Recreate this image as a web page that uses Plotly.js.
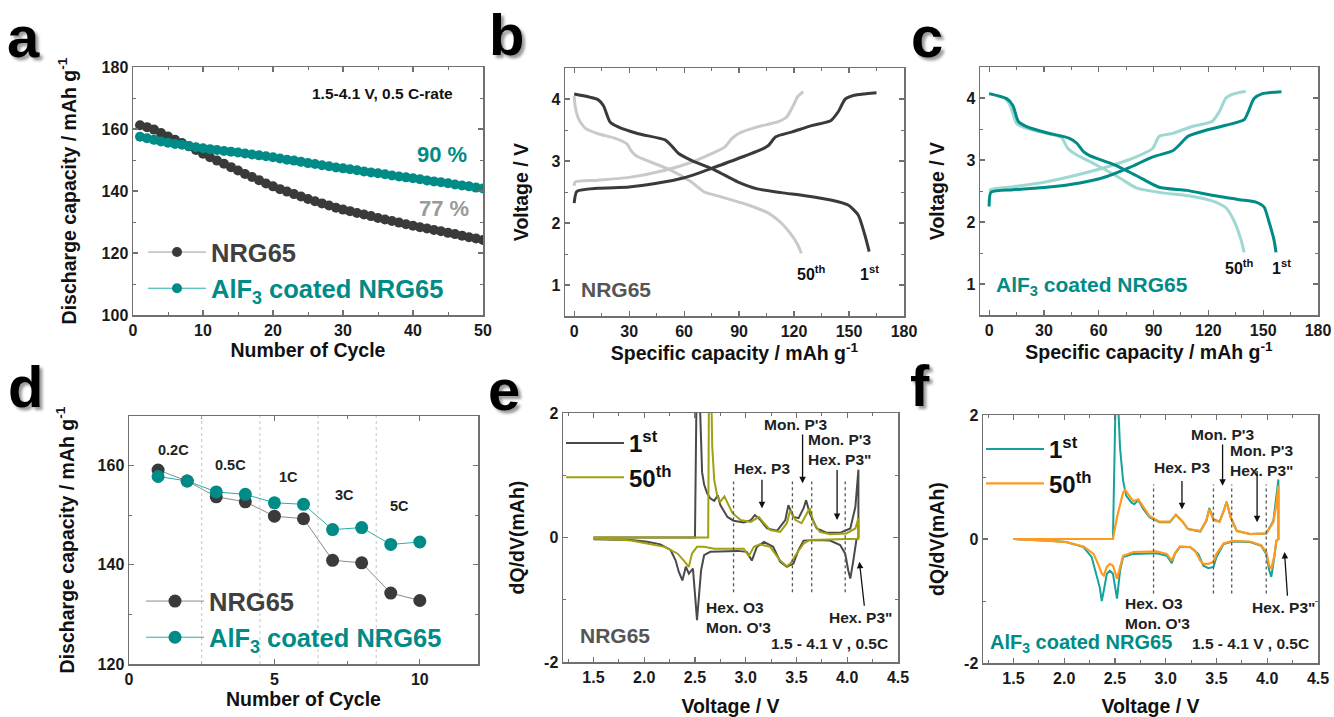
<!DOCTYPE html>
<html><head><meta charset="utf-8">
<script src="https://cdn.plot.ly/plotly-3.0.1.min.js"></script>
<style>html,body{margin:0;padding:0;background:#fff}#chart{width:1334px;height:717px}</style>
</head><body><div id="chart"></div>
<script>
// ---------- DATA ----------
// (a) cycling at 0.5C
const cycA = Array.from({length:50},(_,i)=>i+1);
const capA_NRG = [161.2,160.6,159.8,158.7,157.6,156.5,155.5,154.4,153.2,152.0,150.9,149.8,148.8,147.7,146.6,145.5,144.5,143.5,142.4,141.5,140.6,139.8,139.0,138.2,137.4,136.7,136.0,135.3,134.6,134.0,133.5,132.9,132.4,131.9,131.3,130.8,130.3,129.8,129.3,128.8,128.3,127.9,127.4,127.0,126.5,126.1,125.6,125.1,124.7,124.2];
const capA_AlF = [157.5,157.0,156.5,156.0,155.6,155.2,154.9,154.5,154.1,153.8,153.5,153.2,152.9,152.7,152.4,152.1,151.8,151.5,151.2,150.9,150.5,150.1,149.8,149.4,149.0,148.7,148.3,148.0,147.6,147.3,147.0,146.7,146.3,146.0,145.7,145.4,145.0,144.7,144.4,144.1,143.8,143.4,143.1,142.8,142.5,142.1,141.8,141.5,141.1,140.8];

// (b) NRG65 charge/discharge profiles
const b1ch_cap = [0,1.5,13,30,45,60,75,89.5,101,106,110,119,129.5,140,144,148,153,165];
const b1ch_v   = [2.32,2.51,2.56,2.58,2.64,2.73,2.88,3.04,3.17,3.25,3.39,3.47,3.57,3.65,3.79,4.0,4.06,4.1];
const b1dc_cap = [0,13,16,19.6,24,35,49.6,53,57,64,77,89.5,100,113,126,140,149.5,155,158.6,161];
const b1dc_v   = [4.08,3.99,3.89,3.63,3.55,3.44,3.34,3.25,3.12,3.01,2.85,2.66,2.55,2.49,2.44,2.37,2.29,2.13,1.81,1.54];
const b50ch_cap = [0,0.5,13,31,49.6,64,75,82,86,89.5,100,111,116,119.5,122,125];
const b50ch_v   = [2.6,2.66,2.69,2.74,2.85,2.98,3.12,3.22,3.36,3.44,3.55,3.63,3.71,3.89,4.04,4.12];
const b50dc_cap = [0,0.5,2.4,6,13,22,28.7,31,34,42,53,64,71,80.5,95,106,113,118.6,122,124];
const b50dc_v   = [4.05,3.89,3.68,3.53,3.44,3.37,3.28,3.17,3.08,2.98,2.85,2.66,2.50,2.42,2.29,2.16,2.0,1.81,1.65,1.51];

// (c) AlF3 coated NRG65 profiles
const c1ch_cap = [0,1,13,31.5,49.6,64,77,89.6,100.5,104,108.7,118.7,129.6,139.6,142,145,149.6,160];
const c1ch_v   = [2.25,2.48,2.52,2.56,2.63,2.73,2.88,3.05,3.15,3.24,3.38,3.48,3.56,3.65,3.79,3.99,4.07,4.1];
const c1dc_cap = [0,9.6,13,16,20.5,31.5,44,48,51.5,55,68,80.5,93,108,122,137,146,150.5,153,156,157];
const c1dc_v   = [4.07,3.99,3.88,3.62,3.54,3.44,3.35,3.27,3.14,3.07,2.93,2.75,2.56,2.51,2.43,2.36,2.32,2.24,2.02,1.70,1.51];
const c50ch_cap = [0,1.5,13,31.5,49.6,68,80.5,89.6,93,100.5,111,122,126,129.6,133,140.5];
const c50ch_v   = [2.5,2.53,2.57,2.65,2.77,2.92,3.05,3.19,3.38,3.43,3.54,3.62,3.78,4.0,4.06,4.11];
const c50dc_cap = [0,8.7,11.5,15,20.5,31.5,39.6,43,48,58.7,71.5,80.5,95,109.6,122,129.6,134,138,139.6];
const c50dc_v   = [4.07,3.99,3.88,3.59,3.51,3.43,3.36,3.19,3.08,2.92,2.71,2.55,2.47,2.42,2.34,2.23,2.02,1.70,1.51];

// (d) rate capability
const cycD = [1,2,3,4,5,6,7,8,9,10];
const capD_NRG = [159.1,156.9,153.7,152.7,149.8,149.3,140.9,140.4,134.3,132.8];
const capD_AlF = [157.8,156.9,154.7,154.2,152.5,152.2,147.1,147.5,144.1,144.6];
const rateLabels = ['0.2C','0.5C','1C','3C','5C'];
const rateLabelX = [1.53,3.5,5.47,7.4,9.3];
const rateLabelY = [163.2,160.2,157.6,154.0,151.8];
const rateBounds = [2.5,4.5,6.5,8.5];

// (e) dQ/dV NRG65
const e1_v  = [1.5,2.50,2.52,2.54,2.57,2.59,2.62,2.65,2.69,2.725,2.75,2.82,2.88,2.98,3.05,3.09,3.14,3.21,3.31,3.39,3.42,3.47,3.52,3.57,3.595,3.63,3.70,3.80,3.93,4.03,4.08,4.11,4.11,
               4.09,4.06,4.03,4.01,3.98,3.93,3.83,3.70,3.57,3.52,3.47,3.405,3.34,3.27,3.18,3.11,3.06,3.01,2.92,2.65,2.59,2.56,2.535,2.52,2.505,2.48,2.44,2.41,2.376,2.34,2.31,2.26,2.16,2.03,1.87,1.5];
const e1_dq = [0,0,3.0,2.6,1.05,0.85,0.71,0.63,0.59,0.68,0.52,0.33,0.27,0.24,0.28,0.36,0.29,0.145,0.11,0.28,0.52,0.33,0.31,0.47,0.60,0.39,0.145,0.075,0.075,0.145,0.49,1.09,0,
               -0.04,-0.37,-0.66,-0.53,-0.26,-0.12,-0.05,-0.04,-0.05,-0.2,-0.42,-0.47,-0.39,-0.15,-0.07,-0.15,-0.37,-0.23,-0.215,-0.23,-0.285,-0.53,-0.96,-1.33,-1.01,-0.5,-0.58,-0.47,-0.69,-0.55,-0.37,-0.2,-0.11,-0.07,-0.04,-0.03];
const e50_v  = [1.5,2.63,2.64,2.66,2.67,2.69,2.72,2.75,2.79,2.82,2.87,2.95,3.05,3.09,3.13,3.18,3.24,3.34,3.405,3.44,3.49,3.55,3.60,3.63,3.67,3.73,3.83,3.99,4.08,4.11,4.11,
                3.83,3.63,3.57,3.50,3.44,3.405,3.34,3.24,3.14,3.08,3.03,2.98,2.85,2.69,2.59,2.52,2.47,2.44,2.39,2.33,2.20,2.03,1.87,1.71,1.5];
const e50_dq = [0,0,3.0,2.4,1.46,0.92,0.66,0.575,0.66,0.55,0.39,0.28,0.25,0.29,0.33,0.23,0.12,0.09,0.23,0.44,0.28,0.23,0.39,0.47,0.23,0.09,0.054,0.065,0.145,0.31,-0.02,
                -0.03,-0.04,-0.1,-0.26,-0.42,-0.46,-0.37,-0.15,-0.11,-0.15,-0.3,-0.18,-0.18,-0.18,-0.15,-0.15,-0.26,-0.47,-0.37,-0.26,-0.15,-0.1,-0.05,-0.03,-0.02];
const ePhaseLines = [2.88,3.46,3.65,3.98];

// (f) dQ/dV AlF3 coated NRG65
const f1_v  = [1.5,2.48,2.51,2.52,2.55,2.58,2.61,2.66,2.69,2.73,2.78,2.84,2.94,3.04,3.10,3.16,3.22,3.34,3.40,3.43,3.47,3.53,3.57,3.60,3.64,3.70,3.83,3.99,4.06,4.09,4.11,4.11,
               4.09,4.07,4.04,4.02,3.99,3.94,3.83,3.66,3.57,3.50,3.47,3.42,3.37,3.32,3.24,3.14,3.09,3.06,3.01,2.91,2.68,2.58,2.55,2.52,2.50,2.48,2.45,2.42,2.39,2.37,2.35,2.31,2.27,2.19,2.02,1.86,1.5];
const f1_dq = [0,0,2.6,2.6,1.47,0.94,0.70,0.59,0.56,0.63,0.48,0.35,0.27,0.27,0.39,0.29,0.16,0.12,0.29,0.50,0.32,0.28,0.45,0.60,0.35,0.13,0.08,0.09,0.29,0.67,0.96,0,
               -0.03,-0.29,-0.61,-0.51,-0.24,-0.11,-0.05,-0.04,-0.08,-0.29,-0.45,-0.47,-0.43,-0.24,-0.13,-0.13,-0.24,-0.39,-0.27,-0.23,-0.24,-0.29,-0.51,-0.96,-0.78,-0.56,-0.51,-0.56,-0.83,-1.0,-0.78,-0.51,-0.29,-0.13,-0.05,-0.03,0];
const f50_v  = [1.5,2.48,2.52,2.55,2.58,2.60,2.65,2.68,2.73,2.78,2.84,2.94,3.04,3.10,3.16,3.22,3.34,3.40,3.43,3.47,3.53,3.57,3.60,3.64,3.70,3.83,3.99,4.06,4.09,4.11,4.11,
                4.09,4.07,4.04,4.02,3.99,3.94,3.83,3.66,3.57,3.50,3.47,3.42,3.37,3.34,3.29,3.24,3.14,3.09,3.06,3.01,2.91,2.68,2.58,2.55,2.52,2.50,2.48,2.45,2.42,2.39,2.37,2.34,2.29,2.19,2.02,1.86,1.5];
const f50_dq = [0,0,0.35,0.56,0.75,0.79,0.67,0.61,0.64,0.51,0.37,0.28,0.28,0.39,0.29,0.16,0.13,0.30,0.48,0.30,0.28,0.45,0.60,0.35,0.13,0.08,0.09,0.27,0.56,0.86,0,
                -0.03,-0.27,-0.48,-0.43,-0.21,-0.10,-0.04,-0.03,-0.07,-0.24,-0.37,-0.40,-0.40,-0.35,-0.19,-0.13,-0.12,-0.23,-0.35,-0.24,-0.20,-0.21,-0.27,-0.45,-0.64,-0.53,-0.43,-0.40,-0.45,-0.59,-0.56,-0.43,-0.24,-0.12,-0.05,-0.03,0];
const fPhaseLines = [2.88,3.47,3.65,3.99];

// ---------- STYLE ----------
const FONT = 'Liberation Sans, Arial, sans-serif';
const DARK = '#3a3a3a', LGRAY = '#c9c9c9', TEAL = '#008b87', LTEAL = '#9fd7d2', OLIVE = '#a0a010', ORANGE = '#ff9a1f';
const W = 1334, H = 717;
const dx = (a,b)=>[a/W, b/W];
const dy = (top,bot)=>[1-bot/H, 1-top/H];
const MINOR = (d, t0)=>Object.assign({dtick:d, ticks:'inside', ticklen:3, tickwidth:1, tickcolor:'#707070', showgrid:false}, t0!==undefined?{tick0:t0}:{});

function axis(extra){
  return Object.assign({
    showline:true, linecolor:'#707070', linewidth:1.5, mirror:'allticks',
    ticks:'inside', ticklen:5, tickwidth:1.2, tickcolor:'#707070',
    showgrid:false, zeroline:false, fixedrange:true,
    tickfont:{family:FONT, size:16, color:'#1a1a1a', weight:'bold'}
  }, extra);
}
function ttl(text, standoff){ return {text:text, standoff:standoff, font:{family:FONT, size:19.5, color:'#111', weight:'bold'}}; }

const traces = [];
// (a)
traces.push({x:cycA, y:capA_NRG, xaxis:'x', yaxis:'y', mode:'lines+markers', name:'<span style="color:#404040">NRG65</span>',
  line:{color:'#9a9a9a', width:1}, marker:{color:DARK, size:10}, legend:'legend'});
traces.push({x:cycA, y:capA_AlF, xaxis:'x', yaxis:'y', mode:'lines+markers', name:'<span style="color:#008b87">AlF<sub>3</sub> coated NRG65</span>',
  line:{color:'#22b0aa', width:1}, marker:{color:TEAL, size:10}, legend:'legend'});
// (b)
const prof = (x,y,xa,ya,c)=>({x:x, y:y, xaxis:xa, yaxis:ya, mode:'lines', line:{color:c, width:3, shape:'spline', smoothing:0.6}, showlegend:false, hoverinfo:'skip'});
traces.push(prof(b50ch_cap,b50ch_v,'x2','y2',LGRAY), prof(b50dc_cap,b50dc_v,'x2','y2',LGRAY));
traces.push(prof(b1ch_cap,b1ch_v,'x2','y2',DARK), prof(b1dc_cap,b1dc_v,'x2','y2',DARK));
// (c)
traces.push(prof(c50ch_cap,c50ch_v,'x3','y3',LTEAL), prof(c50dc_cap,c50dc_v,'x3','y3',LTEAL));
traces.push(prof(c1ch_cap,c1ch_v,'x3','y3',TEAL), prof(c1dc_cap,c1dc_v,'x3','y3',TEAL));
// (d)
traces.push({x:cycD, y:capD_NRG, xaxis:'x4', yaxis:'y4', mode:'lines+markers', name:'<span style="color:#404040">NRG65</span>',
  line:{color:'#8a8a8a', width:1}, marker:{color:DARK, size:13}, legend:'legend2'});
traces.push({x:cycD, y:capD_AlF, xaxis:'x4', yaxis:'y4', mode:'lines+markers', name:'<span style="color:#008b87">AlF<sub>3</sub> coated NRG65</span>',
  line:{color:'#22b0aa', width:1}, marker:{color:TEAL, size:13}, legend:'legend2'});
// (e)
traces.push({x:e1_v, y:e1_dq, xaxis:'x5', yaxis:'y5', mode:'lines', name:'1<sup>st</sup>', line:{color:'#4a4a4a', width:2}, legend:'legend3'});
traces.push({x:e50_v, y:e50_dq, xaxis:'x5', yaxis:'y5', mode:'lines', name:'50<sup>th</sup>', line:{color:OLIVE, width:2}, legend:'legend3'});
// (f)
traces.push({x:f1_v, y:f1_dq, xaxis:'x6', yaxis:'y6', mode:'lines', name:'1<sup>st</sup>', line:{color:'#13a39c', width:2}, legend:'legend4'});
traces.push({x:f50_v, y:f50_dq, xaxis:'x6', yaxis:'y6', mode:'lines', name:'50<sup>th</sup>', line:{color:ORANGE, width:2.2}, legend:'legend4'});

// ---------- ANNOTATIONS ----------
const ann = [];
function T(text, x, y, xr, yr, size, color, xanchor, extra){
  ann.push(Object.assign({text:text, x:x, y:y, xref:xr, yref:yr, showarrow:false, xanchor:xanchor||'center', yanchor:'middle',
    font:{family:FONT, size:size, color:color||'#111', weight:'bold'}}, extra||{}));
}
function A(xr, yr, tipX, tipY, tailX, tailY){
  ann.push({text:'', x:tipX, y:tipY, ax:tailX, ay:tailY, xref:xr, yref:yr, axref:xr, ayref:yr,
    showarrow:true, arrowhead:2, arrowsize:1, arrowwidth:1.3, arrowcolor:'#111'});
}
// panel letters
const letters = [['a',24,37],['b',506,35],['c',927,37],['d',25,386],['e',504,389],['f',920,385]];
letters.forEach(([t,px,py])=>{
  ann.push({text:t, x:px/W, y:1-py/H, xref:'paper', yref:'paper', showarrow:false, xanchor:'center', yanchor:'middle',
    font:{family:FONT, size:58, color:'#000', weight:'bold', shadow:'3px 3px 3px #9a9a9a'}});
});
// (a)
T('1.5-4.1 V, 0.5 C-rate', 35.6, 171.6, 'x','y', 15.5, '#111');
T('90 %', 44.1, 151.9, 'x','y', 22, TEAL);
T('77 %', 44.4, 134.2, 'x','y', 22, '#9a9a9a');
// (b)
T('50<sup>th</sup>', 129.5, 1.19, 'x2','y2', 16, '#111');
T('1<sup>st</sup>', 161, 1.19, 'x2','y2', 16, '#111');
T('NRG65', 2.5, 0.93, 'x2','y2', 21, '#555', 'left');
// (c)
T('50<sup>th</sup>', 137, 1.27, 'x3','y3', 16, '#111');
T('1<sup>st</sup>', 160, 1.27, 'x3','y3', 16, '#111');
T('AlF<sub>3</sub> coated NRG65', 2.5, 0.97, 'x3','y3', 21, TEAL, 'left');
// (d)
rateLabels.forEach((t,i)=>T(t, rateLabelX[i], rateLabelY[i], 'x4','y4', 14.5, '#222'));
// (e)
const AF = 15.5;
T('Hex. P3', 3.16, 1.11, 'x5','y5', AF, '#222');
T("Mon. P'3", 3.49, 1.81, 'x5','y5', AF, '#222');
T("Mon. P'3", 3.59, 1.57, 'x5','y5', AF, '#222', 'left');
T('Hex. P3"', 3.59, 1.25, 'x5','y5', AF, '#222', 'left');
T('Hex. O3', 2.59, -1.12, 'x5','y5', AF, '#222', 'left');
T("Mon. O'3", 2.59, -1.44, 'x5','y5', AF, '#222', 'left');
T('Hex. P3"', 3.80, -1.28, 'x5','y5', AF, '#222', 'left');
T('NRG65', 1.35, -1.58, 'x5','y5', 21, '#555', 'left');
T('1.5 - 4.1 V , 0.5C', 4.42, -1.71, 'x5','y5', AF, '#222', 'right');
A('x5','y5', 3.16, 0.47, 3.16, 0.95);
A('x5','y5', 3.56, 0.87, 3.56, 1.68);
A('x5','y5', 3.90, 0.28, 3.90, 1.11);
A('x5','y5', 4.12, -0.39, 4.17, -1.12);
// (f)
T('Hex. P3', 3.16, 1.15, 'x6','y6', AF, '#222');
T("Mon. P'3", 3.56, 1.68, 'x6','y6', AF, '#222');
T("Mon. P'3", 3.61, 1.42, 'x6','y6', AF, '#222', 'left');
T('Hex. P3"', 3.61, 1.10, 'x6','y6', AF, '#222', 'left');
T('Hex. O3', 2.58, -1.04, 'x6','y6', AF, '#222', 'left');
T("Mon. O'3", 2.58, -1.36, 'x6','y6', AF, '#222', 'left');
T('Hex. P3"', 3.83, -1.10, 'x6','y6', AF, '#222', 'left');
T('AlF<sub>3</sub> coated NRG65', 1.25, -1.68, 'x6','y6', 20, TEAL, 'left');
T('1.5 - 4.1 V , 0.5C', 4.43, -1.68, 'x6','y6', AF, '#222', 'right');
A('x6','y6', 3.16, 0.48, 3.16, 0.96);
A('x6','y6', 3.56, 0.86, 3.56, 1.55);
A('x6','y6', 3.90, 0.27, 3.90, 1.12);
A('x6','y6', 4.17, -0.21, 4.20, -0.94);

// ---------- SHAPES ----------
const shapes = [];
rateBounds.forEach(v=>shapes.push({type:'line', xref:'x4', yref:'y4', x0:v, x1:v, y0:120, y1:170, line:{color:'#c4c4c4', width:1, dash:'dot'}}));
ePhaseLines.forEach(v=>shapes.push({type:'line', xref:'x5', yref:'y5', x0:v, x1:v, y0:-0.88, y1:0.9, line:{color:'#555', width:1.3, dash:'dot'}}));
fPhaseLines.forEach(v=>shapes.push({type:'line', xref:'x6', yref:'y6', x0:v, x1:v, y0:-0.88, y1:0.88, line:{color:'#555', width:1.3, dash:'dot'}}));

// ---------- LEGENDS ----------
function leg(x, y, size, color){
  return {x:x, y:y, xref:'paper', yref:'paper', xanchor:'left', yanchor:'top', bgcolor:'rgba(0,0,0,0)', borderwidth:0,
    itemwidth:58, tracegroupgap:0, font:{family:FONT, size:size, color:color, weight:'bold'}};
}

const layout = {
  width:W, height:H, margin:{l:0,r:0,t:0,b:0}, paper_bgcolor:'#fff', plot_bgcolor:'rgba(0,0,0,0)',
  showlegend:true, hovermode:false,
  legend:  leg(143/W, 1-229/H, 25.5, '#404040'),
  legend2: leg(141/W, 1-578/H, 25.5, '#404040'),
  legend3: leg(561/W, 1-421/H, 24, '#111'),
  legend4: leg(981/W, 1-427/H, 24, '#111'),
  xaxis: axis({domain:dx(133,483), anchor:'y', range:[0,50], dtick:10, minor:MINOR(5), title:ttl('Number of Cycle',2)}),
  yaxis: axis({domain:dy(67,315), anchor:'x', range:[100,180], dtick:20, minor:MINOR(10), title:ttl('Discharge capacity / mAh g<sup>-1</sup>',20)}),
  xaxis2: axis({domain:dx(565,904), anchor:'y2', range:[-5,180], tickvals:[0,30,60,90,120,150,180], minor:MINOR(15,0), title:ttl('Specific capacity / mAh g<sup>-1</sup>',2)}),
  yaxis2: axis({domain:dy(68,316), anchor:'x2', range:[0.5,4.5], dtick:1, minor:MINOR(0.5), title:ttl('Voltage / V',17)}),
  xaxis3: axis({domain:dx(980,1318), anchor:'y3', range:[-5,180], tickvals:[0,30,60,90,120,150,180], minor:MINOR(15,0), title:ttl('Specific capacity / mAh g<sup>-1</sup>',2)}),
  yaxis3: axis({domain:dy(67,315), anchor:'x3', range:[0.5,4.5], dtick:1, minor:MINOR(0.5), title:ttl('Voltage / V',16)}),
  xaxis4: axis({domain:dx(129,478), anchor:'y4', range:[0,12], tickvals:[0,5,10], minor:MINOR(2.5,0), title:ttl('Number of Cycle',2)}),
  yaxis4: axis({domain:dy(416,664), anchor:'x4', range:[120,170], tickvals:[120,140,160], minor:MINOR(10), title:ttl('Discharge capacity / mAh g<sup>-1</sup>',18)}),
  xaxis5: axis({domain:dx(563,898), anchor:'y5', range:[1.2,4.5], dtick:0.5, tick0:1.5, tickformat:'.1f', minor:MINOR(0.25,1.5), title:ttl('Voltage / V',15)}),
  yaxis5: axis({domain:dy(413,662), anchor:'x5', range:[-2,2], tickvals:[-2,0,2], ticktext:['-2','0','2'], minor:MINOR(1), title:ttl('dQ/dV(mAh)',14)}),
  xaxis6: axis({domain:dx(983,1318), anchor:'y6', range:[1.2,4.5], dtick:0.5, tick0:1.5, tickformat:'.1f', minor:MINOR(0.25,1.5), title:ttl('Voltage / V',15)}),
  yaxis6: axis({domain:dy(415,663), anchor:'x6', range:[-2,2], tickvals:[-2,0,2], ticktext:['-2','0','2'], minor:MINOR(1), title:ttl('dQ/dV(mAh)',14)}),
  annotations: ann, shapes: shapes
};

Plotly.newPlot('chart', traces, layout, {displayModeBar:false, staticPlot:true});
</script></body></html>
